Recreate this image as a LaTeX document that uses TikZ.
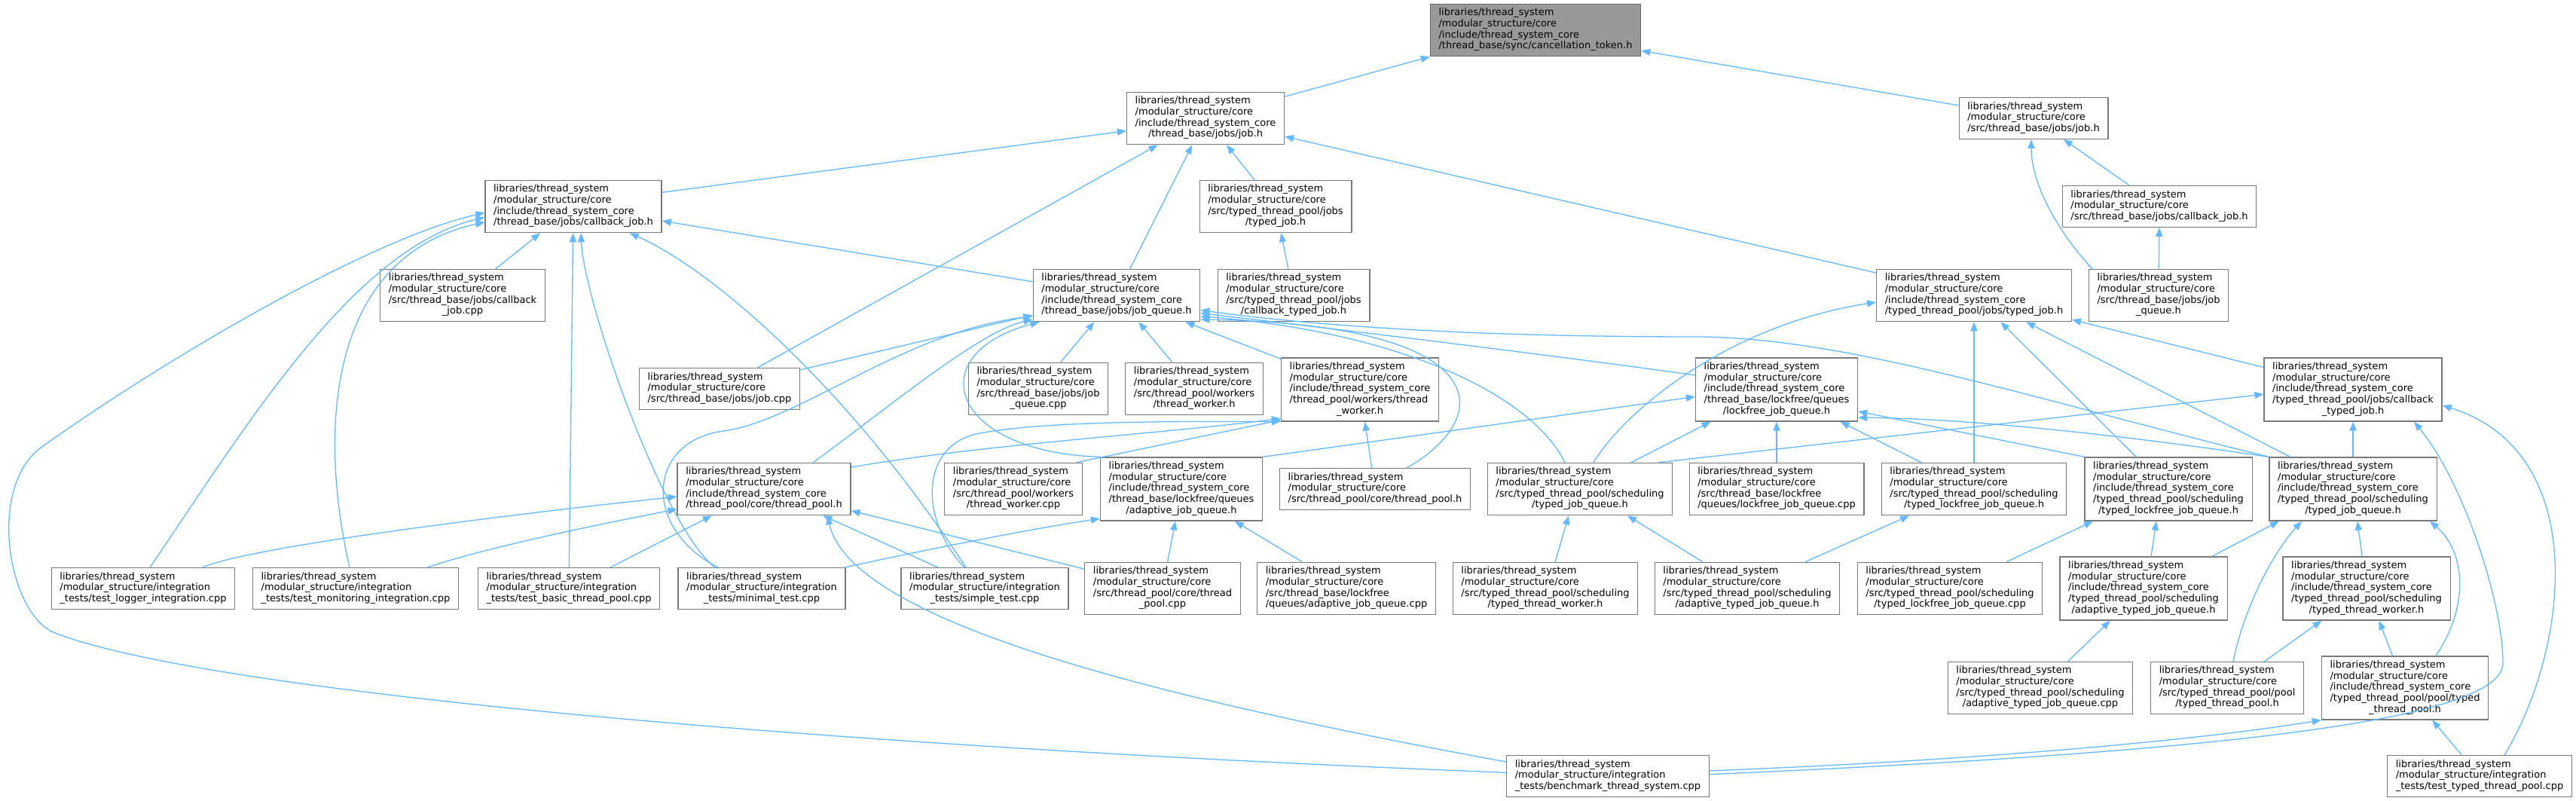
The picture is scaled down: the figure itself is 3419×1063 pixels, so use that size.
\documentclass[tikz,border=0pt]{standalone}
\usepackage{fontspec}
\newfontfamily\dxfont{DejaVu Sans}
\usetikzlibrary{arrows.meta,calc}
\definecolor{depblue}{HTML}{63B8FF}
\definecolor{boxgray}{HTML}{7A7A7A}
\definecolor{rootfill}{HTML}{999999}
\newcommand{\lts}{libraries/thread\_system}
\newcommand{\msc}{/modular\_structure/core}
\newcommand{\msi}{/modular\_structure/integration}
\newcommand{\itc}{/include/thread\_system\_core}
\newcommand{\flines}[2]{\begin{tabular}{@{}l@{}}#1\\\multicolumn{1}{@{}c@{}}{#2}\end{tabular}}
\tikzset{
  file/.style={draw=boxgray, line width=0.6pt, fill=white, rectangle,
    inner xsep=5.6pt, inner ysep=2.65pt, font=\dxfont\fontsize{6.5}{7.35}\selectfont},
  rootfile/.style={file, fill=rootfill, draw=black!60},
  dep/.style={draw=depblue, line width=0.65pt, -{Triangle[length=6pt,width=4.6pt]}},
}
\begin{document}
\begin{tikzpicture}[x=0.5pt,y=-0.5pt]
\useasboundingbox (0,0) rectangle (3419,1063);
\node[rootfile] (ctok) at (2038,40) {\flines{\lts\\\msc\\\itc}{/thread\_base/sync/cancellation\_token.h}};
\node[file] (jobh) at (1600,157) {\flines{\lts\\\msc\\\itc}{/thread\_base/jobs/job.h}};
\node[file] (sjobh) at (2699,157) {\flines{\lts\\\msc}{/src/thread\_base/jobs/job.h}};
\node[file] (cbjobh) at (761,274) {\flines{\lts\\\msc\\\itc}{/thread\_base/jobs/callback\_job.h}};
\node[file] (styped) at (1693,274) {\flines{\lts\\\msc\\/src/typed\_thread\_pool/jobs}{/typed\_job.h}};
\node[file] (scbjobh) at (2866,274) {\flines{\lts\\\msc}{/src/thread\_base/jobs/callback\_job.h}};
\node[file] (cbjobcpp) at (614,392) {\flines{\lts\\\msc\\/src/thread\_base/jobs/callback}{\_job.cpp}};
\node[file] (jqh) at (1482,392) {\flines{\lts\\\msc\\\itc}{/thread\_base/jobs/job\_queue.h}};
\node[file] (scbtyped) at (1717,392) {\flines{\lts\\\msc\\/src/typed\_thread\_pool/jobs}{/callback\_typed\_job.h}};
\node[file] (typedjob) at (2620,392) {\flines{\lts\\\msc\\\itc}{/typed\_thread\_pool/jobs/typed\_job.h}};
\node[file] (sjqh) at (2865,392) {\flines{\lts\\\msc\\/src/thread\_base/jobs/job}{\_queue.h}};
\node[file] (jobcpp) at (955,516) {\flines{\lts\\\msc}{/src/thread\_base/jobs/job.cpp}};
\node[file] (jqcpp) at (1378,516) {\flines{\lts\\\msc\\/src/thread\_base/jobs/job}{\_queue.cpp}};
\node[file] (stwh) at (1585,516) {\flines{\lts\\\msc\\/src/thread\_pool/workers}{/thread\_worker.h}};
\node[file] (twh) at (1805,517) {\flines{\lts\\\msc\\\itc\\/thread\_pool/workers/thread}{\_worker.h}};
\node[file] (lfqh) at (2358,517) {\flines{\lts\\\msc\\\itc\\/thread\_base/lockfree/queues}{/lockfree\_job\_queue.h}};
\node[file] (cbtyped) at (3123,517) {\flines{\lts\\\msc\\\itc\\/typed\_thread\_pool/jobs/callback}{\_typed\_job.h}};
\node[file] (tph) at (1014,649) {\flines{\lts\\\msc\\\itc}{/thread\_pool/core/thread\_pool.h}};
\node[file] (twcpp) at (1345,649) {\flines{\lts\\\msc\\/src/thread\_pool/workers}{/thread\_worker.cpp}};
\node[file] (ajqh) at (1568,649) {\flines{\lts\\\msc\\\itc\\/thread\_base/lockfree/queues}{/adaptive\_job\_queue.h}};
\node[file] (stph) at (1825,649) {\flines{\lts\\\msc}{/src/thread\_pool/core/thread\_pool.h}};
\node[file] (stjqh) at (2097,649) {\flines{\lts\\\msc\\/src/typed\_thread\_pool/scheduling}{/typed\_job\_queue.h}};
\node[file] (lfqcpp) at (2358,649) {\flines{\lts\\\msc\\/src/thread\_base/lockfree}{/queues/lockfree\_job\_queue.cpp}};
\node[file] (stlfqh) at (2620,649) {\flines{\lts\\\msc\\/src/typed\_thread\_pool/scheduling}{/typed\_lockfree\_job\_queue.h}};
\node[file] (tlfqh) at (2878,649) {\flines{\lts\\\msc\\\itc\\/typed\_thread\_pool/scheduling}{/typed\_lockfree\_job\_queue.h}};
\node[file] (tjqh) at (3123,649) {\flines{\lts\\\msc\\\itc\\/typed\_thread\_pool/scheduling}{/typed\_job\_queue.h}};
\node[file] (tlog) at (190,781) {\flines{\lts\\\msi}{\_tests/test\_logger\_integration.cpp}};
\node[file] (tmon) at (472,781) {\flines{\lts\\\msi}{\_tests/test\_monitoring\_integration.cpp}};
\node[file] (tbasic) at (755,781) {\flines{\lts\\\msi}{\_tests/test\_basic\_thread\_pool.cpp}};
\node[file] (tmin) at (1011,781) {\flines{\lts\\\msi}{\_tests/minimal\_test.cpp}};
\node[file] (tsimple) at (1307,781) {\flines{\lts\\\msi}{\_tests/simple\_test.cpp}};
\node[file] (tpcpp) at (1543,781) {\flines{\lts\\\msc\\/src/thread\_pool/core/thread}{\_pool.cpp}};
\node[file] (ajqcpp) at (1787,781) {\flines{\lts\\\msc\\/src/thread\_base/lockfree}{/queues/adaptive\_job\_queue.cpp}};
\node[file] (sttwh) at (2051,781) {\flines{\lts\\\msc\\/src/typed\_thread\_pool/scheduling}{/typed\_thread\_worker.h}};
\node[file] (satjqh) at (2319,781) {\flines{\lts\\\msc\\/src/typed\_thread\_pool/scheduling}{/adaptive\_typed\_job\_queue.h}};
\node[file] (tlfqcpp) at (2588,781) {\flines{\lts\\\msc\\/src/typed\_thread\_pool/scheduling}{/typed\_lockfree\_job\_queue.cpp}};
\node[file] (atjqh) at (2845,781) {\flines{\lts\\\msc\\\itc\\/typed\_thread\_pool/scheduling}{/adaptive\_typed\_job\_queue.h}};
\node[file] (ttwh) at (3141,781) {\flines{\lts\\\msc\\\itc\\/typed\_thread\_pool/scheduling}{/typed\_thread\_worker.h}};
\node[file] (atjqcpp) at (2708,913) {\flines{\lts\\\msc\\/src/typed\_thread\_pool/scheduling}{/adaptive\_typed\_job\_queue.cpp}};
\node[file] (sttph) at (2956,913) {\flines{\lts\\\msc\\/src/typed\_thread\_pool/pool}{/typed\_thread\_pool.h}};
\node[file] (ttph) at (3192,913) {\flines{\lts\\\msc\\\itc\\/typed\_thread\_pool/pool/typed}{\_thread\_pool.h}};
\node[file] (bench) at (2134,1030) {\flines{\lts\\\msi}{\_tests/benchmark\_thread\_system.cpp}};
\node[file] (ttest) at (3291,1030) {\flines{\lts\\\msi}{\_tests/test\_typed\_thread\_pool.cpp}};
\draw[dep] (jobh) -- (ctok.south west);
\draw[dep] (sjobh) -- (ctok.-11);
\draw[dep] (cbjobh.9) -- (jobh.189);
\draw[dep] (styped) -- (jobh);
\draw[dep] (jqh) -- (jobh);
\draw[dep] (jobcpp) -- (jobh);
\draw[dep] (typedjob) -- (jobh);
\draw[dep] (scbjobh) -- (sjobh);
\draw[dep] ($(sjqh.north west)+(5,0)$) .. controls (2725,300) and (2696,240) .. ($(sjobh.south)+(-3,0)$);
\draw[dep] (sjqh) -- (scbjobh);
\draw[dep] (scbtyped) -- (styped);
\draw[dep] (cbjobcpp) -- (cbjobh);
\draw[dep] (jqh) -- (cbjobh);
\draw[dep] ($(tlog.north)+(9,0)$) .. controls (330,560) and (470,330) .. (cbjobh.187);
\draw[dep] ($(tmon.north)+(-8,0)$) .. controls (420,560) and (440,340) .. (cbjobh.190);
\draw[dep] (tbasic) -- (cbjobh);
\draw[dep] ($(tmin.north)+(-62,0)$) .. controls (880,700) and (775,400) .. ($(cbjobh.south)+(10,0)$);
\draw[dep] ($(tsimple.north)+(-25,0)$) .. controls (1130,520) and (950,360) .. ($(cbjobh.south east)+(-43,0)$);
\draw[dep] (bench.178) .. controls (1100,990) and (280,920) .. (73,840)
  .. controls (10,816) and (-20,640) .. (60,590) .. controls (200,490) and (480,320) .. (cbjobh.184);
\draw[dep] (jobcpp) -- (jqh);
\draw[dep] (jqcpp) -- (jqh);
\draw[dep] (stwh) -- (jqh);
\draw[dep] (twh) -- (jqh);
\draw[dep] ($(tph.north east)+(-50,0)$) .. controls (1180,540) and (1300,440) .. (jqh.196);
\draw[dep] (ajqh.north west) .. controls (1260,600) and (1220,470) .. (jqh.199);
\draw[dep] ($(tmin.north)+(-58,0)$) .. controls (850,700) and (860,585) .. (960,572)
  .. controls (1060,559) and (1200,440) .. (jqh.194);
\draw[dep] ($(stph.north)+(42,0)$) .. controls (1990,550) and (1980,430) .. (jqh.-16);
\draw[dep] ($(stjqh.north)+(-20,0)$) .. controls (2030,520) and (1850,440) .. (jqh.-14);
\draw[dep] (lfqh.170) .. controls (2050,470) and (1800,440) .. (jqh.-12);
\draw[dep] (tjqh.north west) .. controls (2700,530) and (2450,447) .. (2250,447)
  .. controls (2050,447) and (1800,440) .. (jqh.-10);
\draw[dep] (tph.14) .. controls (1300,590) and (1550,575) .. (twh.200);
\draw[dep] ($(twcpp.north east)+(-8,0)$) -- (twh.201);
\draw[dep] ($(tsimple.north)+(-27,0)$) .. controls (1220,690) and (1220,590) .. (1300,575)
  .. controls (1400,556) and (1620,560) .. (twh.202);
\draw[dep] (stph) -- (twh);
\draw[dep] ($(tlog.north)+(79,0)$) .. controls (330,725) and (700,680) .. (tph.185);
\draw[dep] ($(tmon.north)+(95,0)$) .. controls (650,725) and (800,695) .. (tph.193);
\draw[dep] (tbasic) -- (tph);
\draw[dep] (tsimple) -- (tph);
\draw[dep] (tpcpp) -- (tph);
\draw[dep] (bench.172) .. controls (1500,920) and (1130,820) .. ($(tph.south)+(84,0)$);
\draw[dep] ($(tmin.north east)+(-2,0)$) .. controls (1250,725) and (1380,700) .. (ajqh.200);
\draw[dep] (tpcpp) -- (ajqh);
\draw[dep] (ajqcpp) -- (ajqh);
\draw[dep] (ajqh.north east) -- (lfqh.185);
\draw[dep] (lfqcpp) -- (lfqh);
\draw[dep] (stlfqh) -- (lfqh);
\draw[dep] (tlfqh.north west) -- (lfqh.-15);
\draw[dep] (tjqh.north west) .. controls (2800,575) and (2600,555) .. (lfqh.-19);
\draw[dep] ($(stjqh.north)+(68,0)$) -- (lfqh.206);
\draw[dep] ($(stjqh.north)+(18,0)$) .. controls (2160,540) and (2300,430) .. (typedjob.184);
\draw[dep] (stlfqh) -- (typedjob);
\draw[dep] (tlfqh) -- (typedjob);
\draw[dep] (tjqh) -- (typedjob);
\draw[dep] (cbtyped) -- (typedjob);
\draw[dep] ($(stjqh.north east)+(-19,0)$) -- (cbtyped.183);
\draw[dep] (tjqh) -- (cbtyped);
\draw[dep] (bench.1) .. controls (2900,1000) and (3322,960) .. (3322,880)
  .. controls (3322,800) and (3270,640) .. ($(cbtyped.south)+(81,0)$);
\draw[dep] ($(ttest.north)+(33,0)$) .. controls (3410,860) and (3440,600) .. (cbtyped.-10);
\draw[dep] ($(sttwh.north)+(13,0)$) -- ($(stjqh.south)+(-15,0)$);
\draw[dep] ($(satjqh.north)+(-59,0)$) -- ($(stjqh.south)+(63,0)$);
\draw[dep] ($(satjqh.north)+(77,0)$) -- ($(stlfqh.south)+(-86,0)$);
\draw[dep] ($(tlfqcpp.north)+(75,0)$) -- ($(tlfqh.south)+(-100,0)$);
\draw[dep] ($(atjqh.north)+(10,0)$) -- ($(tlfqh.south)+(-16,0)$);
\draw[dep] ($(atjqh.north east)+(-21,0)$) -- ($(tjqh.south)+(-98,0)$);
\draw[dep] ($(sttph.north)+(8,0)$) .. controls (2980,800) and (3020,730) .. ($(tjqh.south)+(-68,0)$);
\draw[dep] (ttwh) -- (tjqh);
\draw[dep] ($(ttph.north)+(41,0)$) .. controls (3280,800) and (3270,730) .. ($(tjqh.south)+(102,0)$);
\draw[dep] (atjqcpp) -- (atjqh);
\draw[dep] (sttph) -- (ttwh);
\draw[dep] (ttph) -- (ttwh);
\draw[dep] (ttest) -- (ttph);
\draw[dep] (bench.3) .. controls (2600,1010) and (2900,985) .. (ttph.south west);
\end{tikzpicture}
\end{document}
